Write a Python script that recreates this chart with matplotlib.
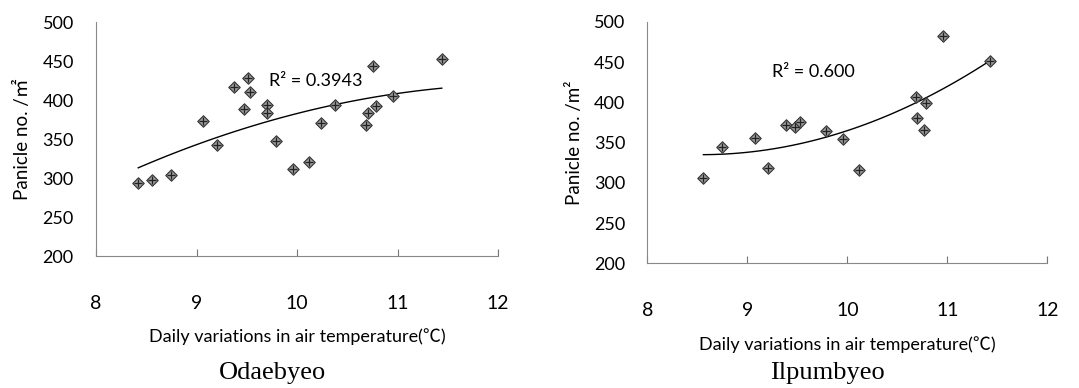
import numpy as np
import matplotlib
matplotlib.use("Agg")
import matplotlib.pyplot as plt

SANS = ["Lato", "Noto Sans CJK SC", "DejaVu Sans"]
SERIF = ["Liberation Serif", "DejaVu Serif"]
plt.rcParams["font.family"] = SANS

# Odaebyeo: daily air temperature range (C) vs panicles per m2
oda_x = [8.42, 8.56, 8.75, 9.06, 9.20, 9.37, 9.47, 9.51, 9.53, 9.70, 9.70,
         9.79, 9.96, 10.12, 10.24, 10.38, 10.69, 10.71, 10.76, 10.79, 10.95, 11.44]
oda_y = [294, 297, 304, 373, 343, 417, 388, 428, 411, 394, 384,
         348, 312, 320, 371, 394, 368, 384, 444, 392, 405, 453]
oda_r2 = "R² = 0.3943"

# Ilpumbyeo
ilp_x = [8.56, 8.75, 9.08, 9.21, 9.39, 9.48, 9.53, 9.79, 9.96, 10.12,
         10.69, 10.70, 10.77, 10.79, 10.96, 11.43]
ilp_y = [306, 345, 356, 319, 372, 369, 376, 364, 355, 316,
         406, 380, 366, 399, 482, 451]
ilp_r2 = "R² = 0.600"

xticks = [8, 9, 10, 11, 12]
yticks = [200, 250, 300, 350, 400, 450, 500]


def panel(ax, x, y, r2, r2_pos, ylabel):
    x, y = np.asarray(x), np.asarray(y)
    # second-order trend line, as in the spreadsheet chart
    coef = np.polyfit(x, y, 2)
    xs = np.linspace(x.min(), x.max(), 100)
    ax.plot(xs, np.polyval(coef, xs), color="black", lw=1.0, zorder=2)
    ax.scatter(x, y, marker="D", s=34, c="#9a9a9a", edgecolors="#333333",
               linewidths=0.8, zorder=3)
    ax.scatter(x, y, marker="+", s=30, c="#222222", linewidths=0.9, zorder=4)
    ax.text(r2_pos[0], r2_pos[1], r2, fontsize=13, va="center")

    ax.set_xlim(8, 12)
    ax.set_ylim(200, 500)
    ax.set_xticks(xticks)
    ax.set_yticks(yticks)
    ax.tick_params(axis="x", direction="in", length=5, width=0.8, color="#777777",
                   pad=28, labelsize=14)
    ax.tick_params(axis="y", length=0, pad=16, labelsize=13)
    for s in ("top", "right"):
        ax.spines[s].set_visible(False)
    for s in ("left", "bottom"):
        ax.spines[s].set_color("#888888")
        ax.spines[s].set_linewidth(0.8)
    ax.axvline(12, ymin=0, ymax=0.025, color="#777777", lw=0.8)
    ax.set_xlabel("Daily variations in air temperature(℃)", fontsize=13, labelpad=12)
    ax.set_ylabel(ylabel, fontsize=13.5, labelpad=8)


fig = plt.figure(figsize=(10.79, 3.88), dpi=100)
ax1 = fig.add_axes([0.089, 0.340, 0.3726, 0.603])
ax2 = fig.add_axes([0.600, 0.321, 0.3707, 0.623])

panel(ax1, oda_x, oda_y, oda_r2, (9.72, 425), "Panicle no. /㎡")
panel(ax2, ilp_x, ilp_y, ilp_r2, (9.25, 437), "Panicle no. /m²")

fig.text(272 / 1079, 0.038, "Odaebyeo", ha="center", va="center", fontsize=19, family=SERIF)
fig.text(827 / 1079, 0.038, "Ilpumbyeo", ha="center", va="center", fontsize=19, family=SERIF)

fig.savefig("out.png", dpi=100)
